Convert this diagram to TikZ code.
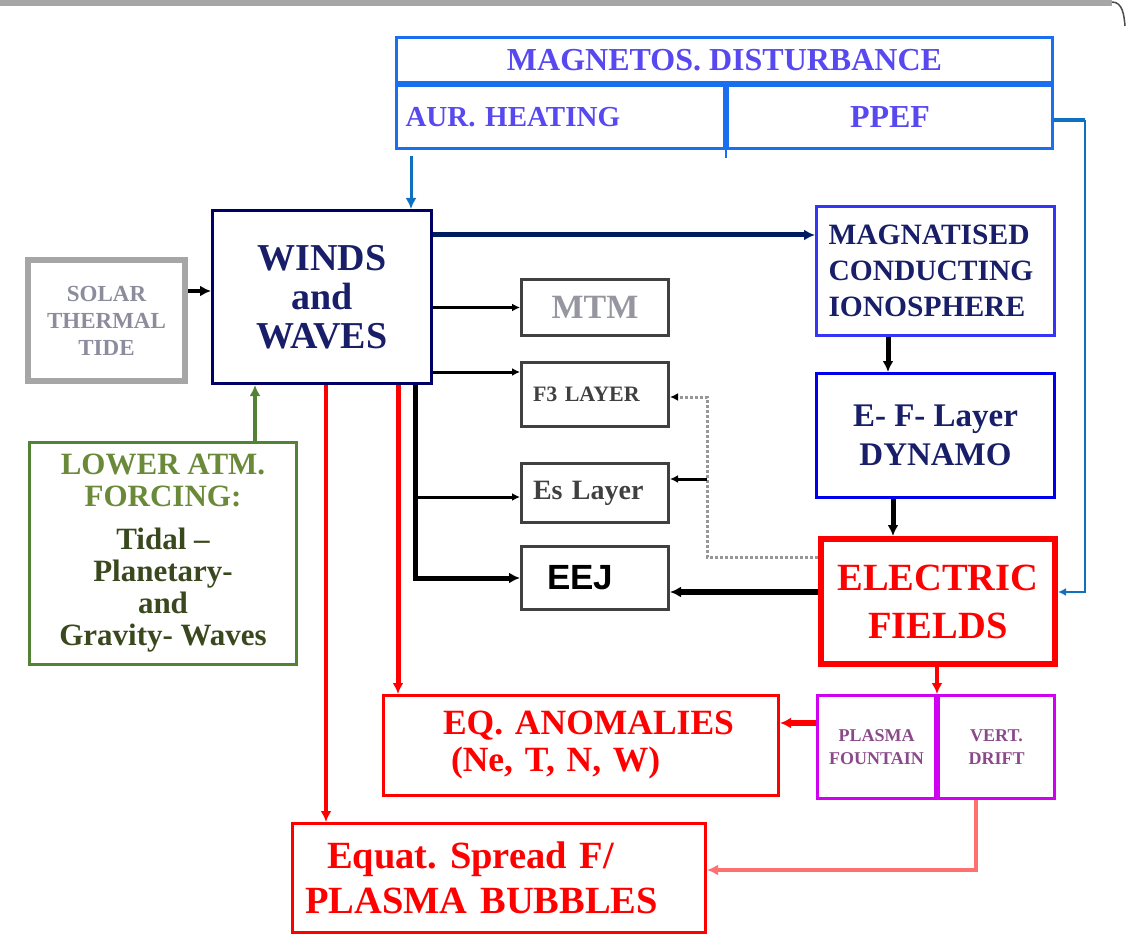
\documentclass[tikz,border=0pt]{standalone}
\usepackage{fontspec}
\setmainfont{Liberation Serif}
\newfontfamily\sansf{Liberation Sans}
\usetikzlibrary{arrows.meta}
\usepackage{xcolor}
\definecolor{navy}{RGB}{0,0,102}
\definecolor{navytext}{RGB}{24,30,104}
\definecolor{arrnavy}{RGB}{0,28,96}
\definecolor{magblue}{RGB}{26,110,240}
\definecolor{magtext}{RGB}{88,72,240}
\definecolor{arrblue}{RGB}{16,112,192}
\definecolor{ionblue}{RGB}{53,53,245}
\definecolor{dynblue}{RGB}{0,0,238}
\definecolor{solargray}{RGB}{166,166,166}
\definecolor{solartext}{RGB}{140,140,156}
\definecolor{boxgray}{RGB}{64,64,64}
\definecolor{mtmgray}{RGB}{150,150,160}
\definecolor{lgreen}{RGB}{84,130,53}
\definecolor{ltext}{RGB}{106,138,58}
\definecolor{ldark}{RGB}{58,72,30}
\definecolor{lred}{RGB}{255,112,112}
\definecolor{pmag}{RGB}{208,0,240}
\definecolor{ptext}{RGB}{138,74,138}
\definecolor{dgray}{RGB}{150,150,150}
\newcommand{\fsz}[2]{\fontsize{#1}{#2}\selectfont\bfseries}
\frenchspacing

\begin{document}
\begin{tikzpicture}[x=1pt, y=-1pt,
    box/.style={draw, inner sep=0pt, line width=3pt},
    arr/.style={-{Latex[length=11pt, width=11pt]}},
    sarr/.style={-{Latex[length=8pt, width=8pt]}}]
\useasboundingbox (0,0) rectangle (1127,936);
% frame edge at the top
\draw[solargray, line width=6pt] (0,3) -- (1112,3);
\draw[black!70, line width=1.5pt] (1112,2) to[out=0, in=95] (1125,26);

% magnetospheric block
\node[box, draw=magblue, text=magtext, minimum width=656, minimum height=45, font=\fsz{32}{34}] (mag) at (724.5,60) {MAGNETOS. DISTURBANCE};
\node[box, draw=magblue, text=magtext, minimum width=328, minimum height=63, text width=310, align=left, font=\fsz{29}{32}] (aur) at (560.5,117) {AUR. HEATING};
\node[box, draw=magblue, text=magtext, minimum width=325, minimum height=63, font=\fsz{32}{34}] (ppef) at (890,117) {PPEF};
\draw[magblue, line width=2pt] (aur.south east) -- ++(0,8);

% left column
\node[box, draw=navy, text=navytext, minimum width=219, minimum height=173, align=center, font=\fsz{38}{39}] (winds) at (322,297) {WINDS\\and\\WAVES};
\node[box, draw=solargray, line width=6pt, text=solartext, minimum width=157, minimum height=121, align=center, font=\fsz{23}{27}] (solar) at (106.5,320.5) {SOLAR\\THERMAL\\TIDE};
\node[box, draw=lgreen, minimum width=267, minimum height=222, align=center, font=\fsz{31}{32}] (lower) at (163,553.5) {\color{ltext}LOWER ATM.\\\color{ltext}FORCING:\\[11pt]\color{ldark}Tidal --\\\color{ldark}Planetary-\\\color{ldark}and\\\color{ldark}Gravity- Waves};

% middle column
\node[box, draw=boxgray, text=mtmgray, minimum width=147, minimum height=56, font=\fsz{34}{36}] (mtm) at (595,307.5) {MTM};
\node[box, draw=boxgray, text=boxgray, minimum width=147, minimum height=64, text width=124, align=left, font=\fsz{22}{24}] (f3) at (595,394.5) {F3 LAYER};
\node[box, draw=boxgray, text=boxgray, minimum width=147, minimum height=59, text width=124, align=left, font=\fsz{28}{30}] (es) at (595,493) {Es Layer};
\node[box, draw=boxgray, text=black, minimum width=147, minimum height=63, text width=96, align=left, font={\sansf\bfseries\fontsize{35}{37}\selectfont}] (eej) at (595,578) {EEJ};

% right column
\node[box, draw=ionblue, text=navytext, minimum width=238, minimum height=129, text width=214, align=left, font=\fsz{29.5}{36}] (magn) at (935.5,271) {MAGNATISED\\CONDUCTING\\IONOSPHERE};
\node[box, draw=dynblue, text=navytext, minimum width=238, minimum height=124, align=center, font=\fsz{33}{39}] (dynamo) at (935.5,435.5) {E- F- Layer\\DYNAMO};
\node[box, draw=red, line width=6pt, text=red, minimum width=234, minimum height=125, align=center, font=\fsz{38.5}{48}] (electric) at (938,601.5) {ELECTRIC\\FIELDS};
\node[box, draw=pmag, text=ptext, minimum width=118, minimum height=103, align=center, font=\fsz{18}{23}] (fount) at (876.5,747) {PLASMA\\FOUNTAIN};
\node[box, draw=pmag, text=ptext, minimum width=116, minimum height=103, align=center, font=\fsz{18}{23}] (drift) at (996.5,747) {VERT.\\DRIFT};

% bottom
\node[box, draw=red, text=red, minimum width=395, minimum height=100, text width=276, align=left, font=\fsz{35.5}{37}] (eq) at (581,745.5) {\mbox{EQ. ANOMALIES}\\\hspace*{8pt}(Ne, T, N, W)};
\node[box, draw=red, text=red, minimum width=413, minimum height=109, text width=388, align=left, font=\fsz{38.5}{45}] (esf) at (499,878) {\hspace*{22pt}Equat. Spread F/\\PLASMA BUBBLES};

% connectors
\coordinate (tk) at (415,497);
\coordinate (dk) at (707,397);
\coordinate (pbend) at (1085,120);
\draw[line width=4pt, arr] (solar.east |- 0,291) -- (winds.west |- 0,291);
\draw[lgreen, line width=4pt, arr] (lower.north -| 255,0) -- (winds.south -| 255,0);
\draw[arrblue, line width=3pt, arr, shorten <=6pt] (aur.south -| 411,0) -- (winds.north -| 411,0);
\draw[arrblue, line width=4pt] (ppef.east |- pbend) -- (pbend);
\draw[arrblue, line width=2pt, sarr] (pbend) |- (electric.east |- 0,592);
\draw[arrnavy, line width=5pt, arr] (winds.east |- 0,235) -- (magn.west |- 0,235);
\draw[line width=3pt, sarr] (winds.east |- mtm) -- (mtm.west);
\draw[line width=3pt, sarr] (winds.east |- 0,372) -- (f3.west |- 0,372);
\draw[line width=5pt, arr] (winds.south -| tk) |- (eej.west);
\draw[line width=3pt, sarr] (tk) -- (es.west |- tk);
\draw[line width=5pt, arr] (magn.south -| 888,0) -- (dynamo.north -| 888,0);
\draw[line width=5pt, arr] (dynamo.south -| 893,0) -- (electric.north -| 893,0);
\draw[line width=6pt, arr] (electric.west |- 0,592) -- (eej.east |- 0,592);
\draw[dgray, line width=3pt, dash pattern=on 3pt off 2pt, -{Latex[length=8pt, width=8pt, color=black]}] (electric.west |- 0,557) -| (dk) -- (f3.east |- dk);
\draw[line width=3pt, sarr] (dk |- 0,479) -- (es.east |- 0,479);
\draw[red, line width=4pt, arr] (electric.south -| fount.north east) -- (fount.north east);
\draw[red, line width=6pt, arr] (fount.west |- 0,723) -- (eq.east |- 0,723);
\draw[red, line width=5pt, arr] (winds.south -| 398,0) -- (eq.north -| 398,0);
\draw[red, line width=4pt, arr] (winds.south -| 326,0) -- (esf.north -| 326,0);
\draw[lred, line width=4pt, arr] (drift.south -| 976,0) |- (esf.east |- 0,870);
\end{tikzpicture}
\end{document}
